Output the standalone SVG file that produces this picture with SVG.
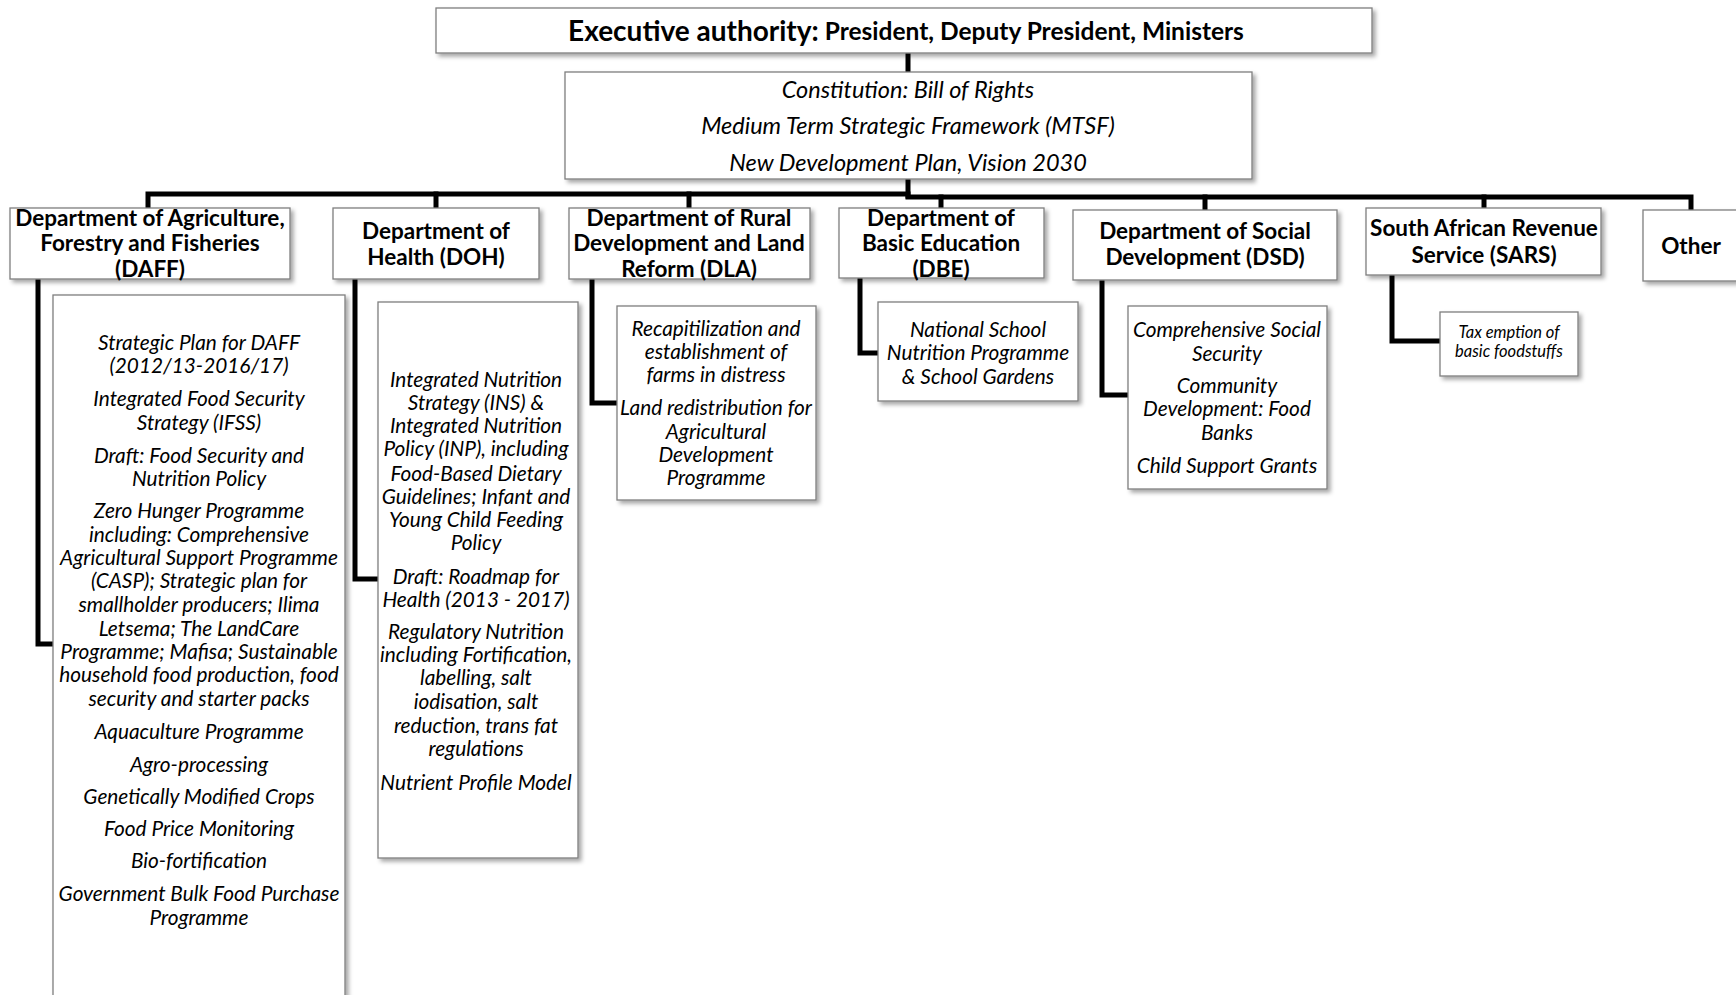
<svg xmlns="http://www.w3.org/2000/svg" width="1736" height="995" viewBox="0 0 1736 995">
<style>
.box{fill:#fff;stroke:#7f7f7f;stroke-width:1.3;filter:url(#sh)}
.conn{fill:none;stroke:#000;stroke-width:5;stroke-linejoin:miter;stroke-linecap:square}
.hd{font-family:Lato,"Liberation Sans",sans-serif;font-weight:bold;font-size:22.5px;fill:#000;text-anchor:middle;dominant-baseline:central}
.it{font-family:Lato,"Liberation Sans",sans-serif;font-style:italic;font-size:20.8px;fill:#000;text-anchor:middle;dominant-baseline:central}
.mid{font-size:23.5px}
.sm{font-size:16.5px}
</style>
<defs>
<filter id="sh" x="-10%" y="-10%" width="130%" height="130%">
<feDropShadow dx="3" dy="3" stdDeviation="2" flood-color="#000" flood-opacity="0.35"/>
</filter>
</defs>

<g id="connectors">
<path class="conn" d="M908 53 V72"/>
<path class="conn" d="M908 179 V196"/>
<path class="conn" d="M148 208 V194 H908"/>
<path class="conn" d="M436 194 V208"/>
<path class="conn" d="M689 194 V208"/>
<path class="conn" d="M908 197 H1691 V210"/>
<path class="conn" d="M941 197 V208"/>
<path class="conn" d="M1205 197 V210"/>
<path class="conn" d="M1484 197 V208"/>
<path class="conn" d="M38 279 V644 H53"/>
<path class="conn" d="M355 279 V579 H378"/>
<path class="conn" d="M592 279 V403 H617"/>
<path class="conn" d="M860 279 V353 H878"/>
<path class="conn" d="M1102 280 V395 H1128"/>
<path class="conn" d="M1392 275 V341 H1440"/>
</g>

<g id="exec">
<rect class="box" x="436" y="8" width="936" height="45"/>
<text class="hd" x="906" y="30"><tspan font-size="28">Executive authority:</tspan><tspan font-size="24.5"> President, Deputy President, Ministers</tspan></text>
</g>

<g id="framework">
<rect class="box" x="565" y="72" width="687" height="107"/>
<text class="it mid"><tspan x="908" y="89">Constitution: Bill of Rights</tspan><tspan x="908" y="125">Medium Term Strategic Framework (MTSF)</tspan><tspan x="908" y="162">New Development Plan, Vision 2030</tspan></text>
</g>

<g id="daff">
<rect class="box" x="10" y="208" width="280" height="71"/>
<text class="hd"><tspan x="150" y="217">Department of Agriculture,</tspan><tspan x="150" y="242">Forestry and Fisheries</tspan><tspan x="150" y="268">(DAFF)</tspan></text>
</g>
<g id="doh">
<rect class="box" x="333" y="208" width="206" height="71"/>
<text class="hd"><tspan x="436" y="230">Department of</tspan><tspan x="436" y="256">Health (DOH)</tspan></text>
</g>
<g id="dla">
<rect class="box" x="569" y="208" width="241" height="71"/>
<text class="hd"><tspan x="689" y="217">Department of Rural</tspan><tspan x="689" y="242">Development and Land</tspan><tspan x="689" y="268">Reform (DLA)</tspan></text>
</g>
<g id="dbe">
<rect class="box" x="839" y="208" width="205" height="70"/>
<text class="hd"><tspan x="941" y="217">Department of</tspan><tspan x="941" y="242">Basic Education</tspan><tspan x="941" y="268">(DBE)</tspan></text>
</g>
<g id="dsd">
<rect class="box" x="1073" y="210" width="264" height="70"/>
<text class="hd"><tspan x="1205" y="230">Department of Social</tspan><tspan x="1205" y="256">Development (DSD)</tspan></text>
</g>
<g id="sars">
<rect class="box" x="1366" y="208" width="235" height="67"/>
<text class="hd"><tspan x="1484" y="227">South African Revenue</tspan><tspan x="1484" y="254">Service (SARS)</tspan></text>
</g>
<g id="other">
<rect class="box" x="1643" y="210" width="100" height="71"/>
<text class="hd" x="1691" y="245">Other</text>
</g>

<g id="daff-policies">
<rect class="box" x="53" y="295" width="292" height="710"/>
<text class="it"><tspan x="199" y="341">Strategic Plan for DAFF</tspan><tspan x="199" y="364">(2012/13-2016/17)</tspan><tspan x="199" y="397">Integrated Food Security</tspan><tspan x="199" y="421">Strategy (IFSS)</tspan><tspan x="199" y="454">Draft: Food Security and</tspan><tspan x="199" y="477">Nutrition Policy</tspan><tspan x="199" y="509">Zero Hunger Programme</tspan><tspan x="199" y="533">including: Comprehensive</tspan><tspan x="199" y="556">Agricultural Support Programme</tspan><tspan x="199" y="579">(CASP); Strategic plan for</tspan><tspan x="199" y="603">smallholder producers; Ilima</tspan><tspan x="199" y="627">Letsema; The LandCare</tspan><tspan x="199" y="650">Programme; Mafisa; Sustainable</tspan><tspan x="199" y="673">household food production, food</tspan><tspan x="199" y="697">security and starter packs</tspan><tspan x="199" y="730">Aquaculture Programme</tspan><tspan x="199" y="763">Agro-processing</tspan><tspan x="199" y="795">Genetically Modified Crops</tspan><tspan x="199" y="827">Food Price Monitoring</tspan><tspan x="199" y="859">Bio-fortification</tspan><tspan x="199" y="892">Government Bulk Food Purchase</tspan><tspan x="199" y="916">Programme</tspan></text>
</g>

<g id="doh-policies">
<rect class="box" x="378" y="302" width="200" height="556"/>
<text class="it"><tspan x="476" y="378">Integrated Nutrition</tspan><tspan x="476" y="401">Strategy (INS) &amp;</tspan><tspan x="476" y="424">Integrated Nutrition</tspan><tspan x="476" y="447">Policy (INP), including</tspan><tspan x="476" y="472">Food-Based Dietary</tspan><tspan x="476" y="495">Guidelines; Infant and</tspan><tspan x="476" y="518">Young Child Feeding</tspan><tspan x="476" y="541">Policy</tspan><tspan x="476" y="575">Draft: Roadmap for</tspan><tspan x="476" y="598">Health  (2013 - 2017)</tspan><tspan x="476" y="630">Regulatory Nutrition</tspan><tspan x="476" y="653">including Fortification,</tspan><tspan x="476" y="676">labelling, salt</tspan><tspan x="476" y="700">iodisation, salt</tspan><tspan x="476" y="724">reduction, trans fat</tspan><tspan x="476" y="747">regulations</tspan><tspan x="476" y="781">Nutrient Profile Model</tspan></text>
</g>

<g id="dla-policies">
<rect class="box" x="617" y="306" width="199" height="194"/>
<text class="it"><tspan x="716" y="327">Recapitilization and</tspan><tspan x="716" y="350">establishment of</tspan><tspan x="716" y="373">farms in distress</tspan><tspan x="716" y="406">Land redistribution for</tspan><tspan x="716" y="430">Agricultural</tspan><tspan x="716" y="453">Development</tspan><tspan x="716" y="476">Programme</tspan></text>
</g>

<g id="dbe-policies">
<rect class="box" x="878" y="302" width="200" height="99"/>
<text class="it"><tspan x="978" y="328">National  School</tspan><tspan x="978" y="351">Nutrition Programme</tspan><tspan x="978" y="375">&amp; School Gardens</tspan></text>
</g>

<g id="dsd-policies">
<rect class="box" x="1128" y="306" width="199" height="183"/>
<text class="it"><tspan x="1227" y="328">Comprehensive Social</tspan><tspan x="1227" y="352">Security</tspan><tspan x="1227" y="384">Community</tspan><tspan x="1227" y="407">Development: Food</tspan><tspan x="1227" y="431">Banks</tspan><tspan x="1227" y="464">Child Support Grants</tspan></text>
</g>

<g id="sars-policies">
<rect class="box" x="1440" y="312" width="138" height="64"/>
<text class="it sm"><tspan x="1509" y="332">Tax emption of</tspan><tspan x="1509" y="351">basic foodstuffs</tspan></text>
</g>
</svg>
